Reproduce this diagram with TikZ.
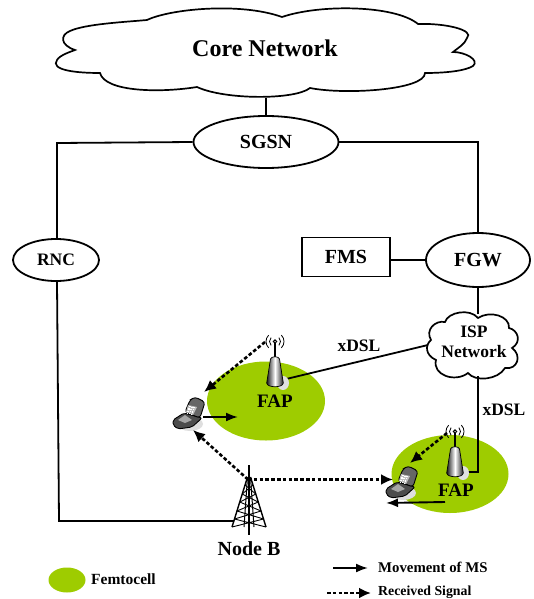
\documentclass[tikz,border=0pt]{standalone}
\usepackage{fontspec}
\setmainfont{Liberation Serif}
\usetikzlibrary{shapes.geometric,arrows.meta}
\definecolor{femto}{RGB}{158,204,0}
\newcommand{\fs}[1]{\fontsize{#1}{#1}\selectfont\bfseries}
\tikzset{
  x=1pt,y=-1pt,
  lbl/.style={inner sep=0pt,font=\fs{#1}},
  lbl/.default=18,
  wire/.style={line width=1.8pt,line join=miter},
  elli/.style={draw=black,line width=1.8pt,fill=white,ellipse,inner sep=0pt,minimum width=#1},
  cell/.style={fill=femto,draw=none,ellipse,inner sep=0pt},
  move/.style={line width=1.9pt,-{Latex[length=12pt,width=9pt]}},
  signal/.style={line width=2.6pt,dash pattern=on 3.6pt off 2.2pt,-{Latex[length=12pt,width=11pt]}},
  antenna/.pic={
    \fill[black!12] (8,12) ellipse[x radius=6,y radius=7];
    \draw[line width=1.2pt] (0,-28)--(0,-8);
    \draw[line width=1pt,fill=white] (0,-29.5) circle(1.7);
    \foreach \r in {5.5,9}{
      \draw[line width=.8pt] ([shift={(0,-29.5)}]135:\r) arc[start angle=135,end angle=225,radius=\r];
      \draw[line width=.8pt] ([shift={(0,-29.5)}]-45:\r) arc[start angle=-45,end angle=45,radius=\r];
    }
    \draw[line width=.7pt,left color=black!90,right color=black!90,middle color=white]
      (-4.5,-12) -- (-8.3,12) .. controls (-8,17) and (8,17) .. (8.3,12) -- (4.5,-12)
      .. controls (4,-15) and (-4,-15) .. (-4.5,-12) -- cycle;
  },
  mobile/.pic={
    \fill[black!13] (2,10) ellipse[x radius=13,y radius=7];
    \draw[line width=.9pt,fill=black!70,rounded corners=2pt]
      (-15,6) -- (-4,-1) -- (14,4) -- (4,13) -- (-10,15) -- (-15,11) -- cycle;
    \fill[black!35] (-10,6) -- (-3,1) -- (4,6) -- (-3,9) -- cycle;
    \draw[line width=.9pt,fill=black!60,rounded corners=3pt]
      (7,-17) -- (17,-12) -- (12,4) -- (-3,-2) -- (2,-14) -- cycle;
    \fill[black!25] (0,-9) -- (9,-7) -- (5,1) -- (-2,-2) -- cycle;
    \foreach \a in {0,1,2}\foreach \b in {0,1,2,3}
      \fill[white] (1.2+2.1*\a-.9*\b,-7.8+2.2*\b+.4*\a) rectangle +(1.3,1.2);
  },
  tower/.pic={
    \draw[line width=1.2pt] (0,-62)--(0,8);
    \draw[line width=1.4pt] (-1.5,-50) -- (-17,0) (1.5,-50) -- (17,0);
    \draw[line width=1pt] (-1.5,-50)--(-5,0) (1.5,-50)--(5,0);
    \foreach \t/\b in {-42/-33,-33/-25,-25/-16,-16/-8,-8/0}{
      \pgfmathsetmacro{\wt}{1.5+15.5*(\t+50)/50}
      \pgfmathsetmacro{\wb}{1.5+15.5*(\b+50)/50}
      \draw[line width=.9pt] (-\wt,\t)--(\wb,\b) (\wt,\t)--(-\wb,\b);
    }
  }
}
\begin{document}
\begin{tikzpicture}
\useasboundingbox (0,0) rectangle (534,599);
% femtocells
\node[cell,minimum width=118pt,minimum height=79pt] (cellA) at (266,401) {};
\node[cell,minimum width=117pt,minimum height=78pt] (cellB) at (450,474) {};
\node[cell,minimum width=37pt,minimum height=25pt] (cellL) at (67,580) {};
% cloud
\draw[line width=1.7pt,fill=white] (147,20)
 .. controls (170,9) and (240,2) .. (282,17)
 .. controls (320,4) and (395,5) .. (418,24)
 .. controls (445,23) and (475,30) .. (467,38)
 .. controls (465,44) and (458,48) .. (453,52)
 .. controls (465,52) and (480,60) .. (473,66)
 .. controls (465,71) and (445,73) .. (425,73)
 .. controls (425,90) and (345,95) .. (310,88)
 .. controls (295,100) and (225,100) .. (197,87)
 .. controls (160,93) and (105,92) .. (100,73)
 .. controls (75,73) and (50,70) .. (57,60)
 .. controls (60,55) and (70,52) .. (75,50)
 .. controls (60,45) and (60,35) .. (70,31)
 .. controls (85,24) and (125,22) .. (147,20) -- cycle;
\coordinate (coreS) at (266,98);
\node[lbl=24] (core) at (265,48) {Core Network};
% ISP cloud
\draw[line width=1.7pt,fill=white] (445,322)
 .. controls (448,312) and (470,308) .. (478,318)
 .. controls (490,310) and (510,316) .. (509,328)
 .. controls (518,330) and (522,342) .. (512,348)
 .. controls (522,355) and (518,370) .. (505,368)
 .. controls (498,380) and (475,382) .. (468,373)
 .. controls (455,383) and (432,375) .. (436,360)
 .. controls (425,355) and (425,345) .. (431,340)
 .. controls (425,330) and (435,320) .. (445,322) -- cycle;
\node[lbl=17.5,align=center] (isp) at (474,342) {ISP\\[2.5pt]Network};
\coordinate (ispT) at (478,314);
\coordinate (ispL) at (428,345);
\coordinate (ispB) at (478,376);
% nodes
\node[elli=145pt,minimum height=52pt,lbl=20] (sgsn) at (266,142) {SGSN};
\node[elli=104pt,minimum height=54pt,lbl=20] (fgw) at (478,260) {FGW};
\node[elli=86pt,minimum height=42pt,lbl=17.5] (rnc) at (56,260) {RNC};
\node[draw,line width=1.8pt,minimum width=88pt,minimum height=39pt,lbl=20,inner sep=0pt] (fms) at (346,257) {FMS};
\coordinate (gA) at (57,143);
\coordinate (gB) at (59,521);
\coordinate (gC) at (478,142);
\coordinate (gD) at (478,472);
\coordinate (fapA) at (282,380);
\coordinate (fapB) at (462,472);
% wires that pass behind the access points
\draw[wire] (ispL) -- (fapA);
\draw[wire] (ispB) -- (gD) -- (fapB);
% pics
\pic at (275,371) {antenna};
\pic at (455,461) {antenna};
\pic at (188,414) {mobile};
\pic at (401,483) {mobile};
\pic at (249,527) {tower};
\coordinate (towL) at (234,521);
\coordinate (towT) at (248,479.5);
\coordinate (waveA) at (265,342);
\coordinate (waveB) at (447,433);
\coordinate (msAs) at (204,392);
\coordinate (msAb) at (193,430);
\coordinate (msBt) at (393,479.5);
\coordinate (msBa) at (410,463);
\coordinate (msAm) at (203,417);
\coordinate (msAe) at (238,417);
\coordinate (msBm) at (445,502);
\coordinate (msBe) at (386,503);
% wires
\draw[wire] (coreS) -- (sgsn.north);
\draw[wire] (sgsn.west) -- (gA) -- (rnc.north -| gA);
\draw[wire] (rnc.south -| gA) -- (gB) -- (towL);
\draw[wire] (sgsn.east) -- (gC) -- (fgw.north -| gC);
\draw[wire] (fms.east |- fgw.west) -- (fgw.west);
\draw[wire] (fgw.south) -- (ispT);
% signals and movements
\draw[signal] (waveA) -- (msAs);
\draw[signal] (waveB) -- (msBa);
\draw[signal] (towT) -- (msAb);
\draw[signal] (towT) -- (msBt);
\draw[move] (msAm) -- (msAe);
\draw[move] (msBm) -- (msBe);
% labels
\node[lbl=17.5] (xa) at (359,346) {xDSL};
\node[lbl=17.5] (xb) at (504,410) {xDSL};
\node[lbl=19] (fa) at (275,401) {FAP};
\node[lbl=19] (fb) at (456,490) {FAP};
\node[lbl=20] (nb) at (249,549) {Node B};
% legend
\node[lbl=15.5,anchor=west] (lf) at (91,579) {Femtocell};
\node[lbl=14.8,anchor=west] (lm) at (378,567) {Movement of MS};
\node[lbl=13.8,anchor=west] (lr) at (378,592) {Received Signal};
\coordinate (mA) at (333,568);
\coordinate (mB) at (368,568);
\coordinate (rA) at (327,593);
\coordinate (rB) at (371,593);
\draw[move] (mA) -- (mB);
\draw[signal] (rA) -- (rB);
\end{tikzpicture}
\end{document}
